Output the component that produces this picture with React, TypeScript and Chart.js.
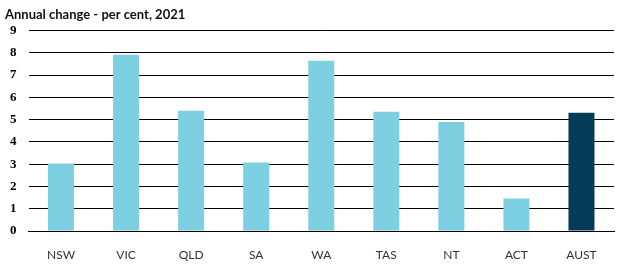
import React, { useEffect, useRef } from "react";
import { Chart, registerables } from "chart.js";

Chart.register(...registerables);

const categories = ["NSW", "VIC", "QLD", "SA", "WA", "TAS", "NT", "ACT", "AUST"];
const values = [3.03, 7.92, 5.4, 3.08, 7.65, 5.35, 4.9, 1.46, 5.31];
const barColors = ["#7dd0e1", "#7dd0e1", "#7dd0e1", "#7dd0e1", "#7dd0e1", "#7dd0e1", "#7dd0e1", "#7dd0e1", "#053b58"];
const titleText = "Annual change - per cent, 2021";

export default function App() {
  const ref = useRef<HTMLCanvasElement | null>(null);
  useEffect(() => {
    document.body.style.margin = "0";
    const chart = new Chart(ref.current!, {
      type: "bar",
      data: {
        labels: categories,
        datasets: [
          {
            data: values,
            backgroundColor: barColors,
            categoryPercentage: 1,
            barPercentage: 0.4,
          },
        ],
      },
      options: {
        responsive: false,
        animation: false,
        layout: { padding: { left: 5, right: 4, top: 0, bottom: 0 } },
        plugins: {
          legend: { display: false },
          tooltip: { enabled: false },
          title: {
            display: true,
            text: titleText,
            align: "start",
            color: "#111",
            font: { family: "Lato", size: 13, weight: "bold" },
            padding: { top: 7, bottom: 8 },
          },
        },
        scales: {
          x: {
            grid: { display: false },
            border: { display: true, color: "#000", width: 1 },
            ticks: {
              color: "#333",
              font: { family: "Lato", size: 12 },
              padding: 9,
            },
            afterFit: (s: any) => {
              s.height = 34;
            },
          },
          y: {
            min: 0,
            max: 9,
            ticks: {
              stepSize: 1,
              color: "#000",
              font: { family: "Liberation Serif", size: 13, weight: "bold" },
              padding: 12,
            },
            grid: { color: "#000", lineWidth: 1, drawTicks: false },
            border: { display: false },
            afterFit: (s: any) => {
              s.width = 23.5;
            },
          },
        },
      },
    });
    return () => chart.destroy();
  }, []);
  return (
    <div style={{ width: 618, height: 265 }}>
      <canvas ref={ref} width={618} height={265} />
    </div>
  );
}
